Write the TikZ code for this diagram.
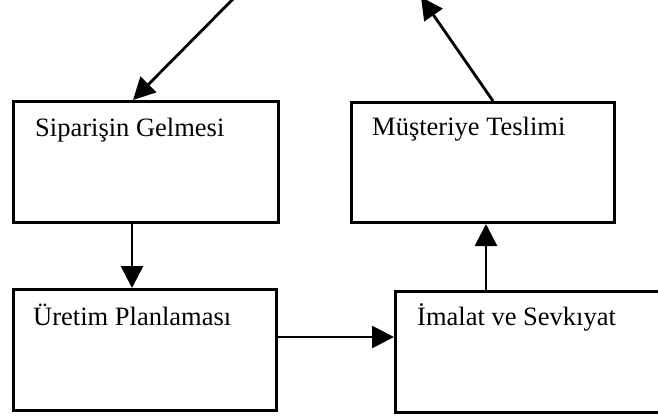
\documentclass[tikz,border=0pt]{standalone}
\usepackage{fontspec}
\setmainfont{Liberation Serif}
\usetikzlibrary{arrows.meta}
\begin{document}
\begin{tikzpicture}[x=1pt,y=-1pt,
  box/.style={draw,line width=3pt,rectangle,inner sep=0pt,anchor=north west},
  lbl/.style={anchor=base west,inner sep=0pt,font=\fontsize{26.5}{30}\selectfont},
  arr/.style={line width=2.8pt,-{Triangle[length=22pt,width=22pt]}}]
\useasboundingbox (0,0) rectangle (658,415);
\clip (0,0) rectangle (658,415);
\node[box,minimum width=265pt,minimum height=121pt] (b1) at (12,100) {};
\node[box,minimum width=263pt,minimum height=120pt] (b2) at (350,101) {};
\node[box,minimum width=263pt,minimum height=121pt] (b3) at (12,288) {};
\node[box,minimum width=290pt,minimum height=121pt] (b4) at (394,290) {};
\node[lbl] (t1) at (35,136) {Siparişin Gelmesi};
\node[lbl] (t2) at (372,135) {Müşteriye Teslimi};
\node[lbl] (t3) at (33,325) {Üretim Planlaması};
\node[lbl] (t4) at (417,325) {İmalat ve Sevkıyat};
\coordinate (inL) at (238,-6);
\coordinate (outR) at (421,-3);
\draw[arr] (inL) -- (b1.north west -| 133,0);
\draw[arr] (b2.north west -| 493,0) -- (outR);
\draw[arr] (b1.south west -| 132,0) -- (b3.north west -| 132,0);
\draw[arr] (b3.north east |- 0,337) -- (b4.north west |- 0,337);
\draw[arr] (b4.north west -| 486,0) -- (b2.south west -| 486,0);
\end{tikzpicture}
\end{document}
